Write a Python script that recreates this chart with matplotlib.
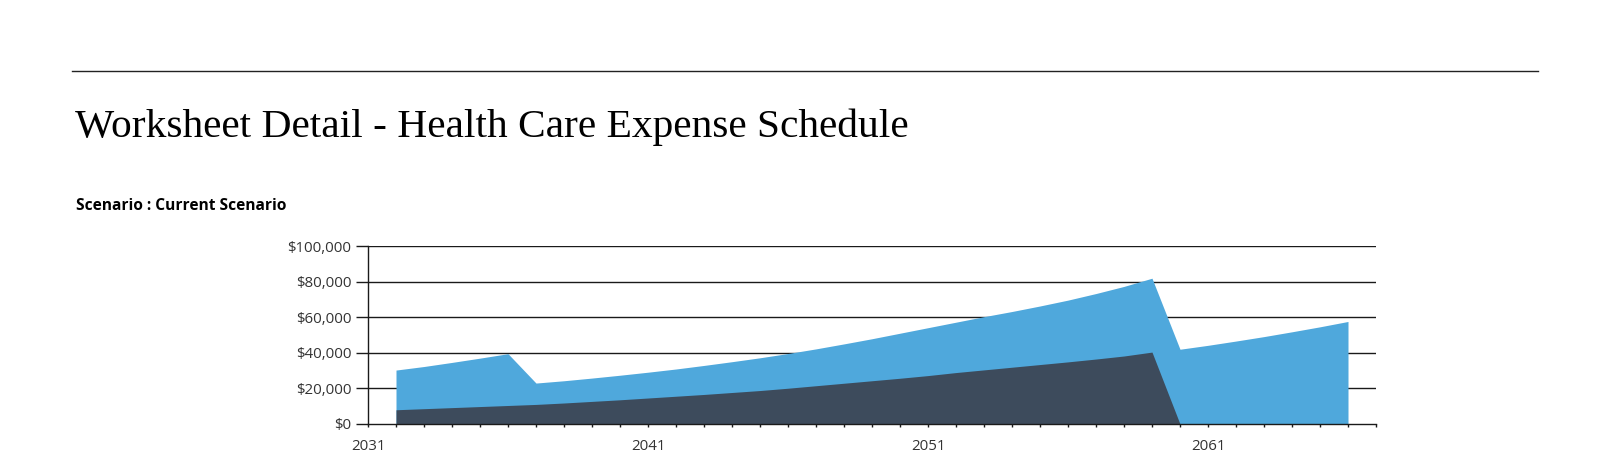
import matplotlib
matplotlib.use("Agg")
import matplotlib.pyplot as plt
from matplotlib.lines import Line2D
from matplotlib.ticker import FuncFormatter, MultipleLocator

years = list(range(2032, 2067))
total_expense = [30300, 32300, 34600, 37000, 39500, 23000, 24300, 25800, 27400, 29100,
                 30900, 32900, 35000, 37200, 39600, 42200, 45000, 47900, 51000, 54100,
                 57200, 60300, 63200, 66300, 69600, 73300, 77300, 81900, 42000, 44200,
                 46600, 49100, 51800, 54600, 57600]
dark_expense = [8000, 8600, 9200, 9800, 10400, 11000, 11800, 12700, 13600, 14600,
                15600, 16600, 17700, 18800, 20100, 21500, 22900, 24300, 25700, 27200,
                28900, 30400, 31900, 33400, 34900, 36500, 38200, 40400, 0, 0,
                0, 0, 0, 0, 0]
x_tick_labels = [2031, 2041, 2051, 2061]
y_ticks = [0, 20000, 40000, 60000, 80000, 100000]

W, H = 1604, 462
fig = plt.figure(figsize=(W / 100, H / 100), dpi=100)
fig.patch.set_facecolor("white")

# header rule
fig.add_artist(Line2D([72 / W, 1538 / W], [1 - 71 / H, 1 - 71 / H],
                      color="#222222", lw=1.0, transform=fig.transFigure))
fig.text(75 / W, 1 - 137 / H, "Worksheet Detail - Health Care Expense Schedule",
         family="Liberation Serif", fontsize=29.8, color="black", va="baseline", ha="left")
fig.text(76 / W, 1 - 210 / H, "Scenario : Current Scenario",
         family="Open Sans", fontweight="bold", fontsize=11.2, color="black",
         va="baseline", ha="left")

left, right, top, bottom = 368, 1376, 246, 424
ax = fig.add_axes([left / W, 1 - bottom / H, (right - left) / W, (bottom - top) / H])

ax.fill_between(years, 0, total_expense, color="#4FA8DC", lw=0, zorder=2)
ax.fill_between(years, 0, dark_expense, color="#3D4B5C", lw=0, zorder=3)

ax.set_xlim(2031, 2067)
ax.set_ylim(0, 100000)
ax.set_yticks(y_ticks)
ax.yaxis.set_major_formatter(FuncFormatter(lambda v, p: f"${int(v):,}"))
ax.set_xticks(x_tick_labels)
ax.xaxis.set_minor_locator(MultipleLocator(1))

for yv in y_ticks[1:]:
    ax.axhline(yv, color="#1a1a1a", lw=1.0, zorder=1)

for s in ["top", "right"]:
    ax.spines[s].set_visible(False)
for s in ["left", "bottom"]:
    ax.spines[s].set_color("#1a1a1a")
    ax.spines[s].set_linewidth(1.0)
    ax.spines[s].set_zorder(5)

ax.tick_params(axis="y", direction="out", length=8.5, width=1.0, color="#1a1a1a",
               pad=3.5, labelsize=10.8, labelcolor="#333333")
ax.tick_params(axis="x", which="both", direction="out", length=2.5, width=1.0,
               color="#1a1a1a", pad=8, labelsize=10.8, labelcolor="#333333")
for lab in ax.get_xticklabels() + ax.get_yticklabels():
    lab.set_family("Open Sans")

fig.savefig("out.png", dpi=100, facecolor="white")
